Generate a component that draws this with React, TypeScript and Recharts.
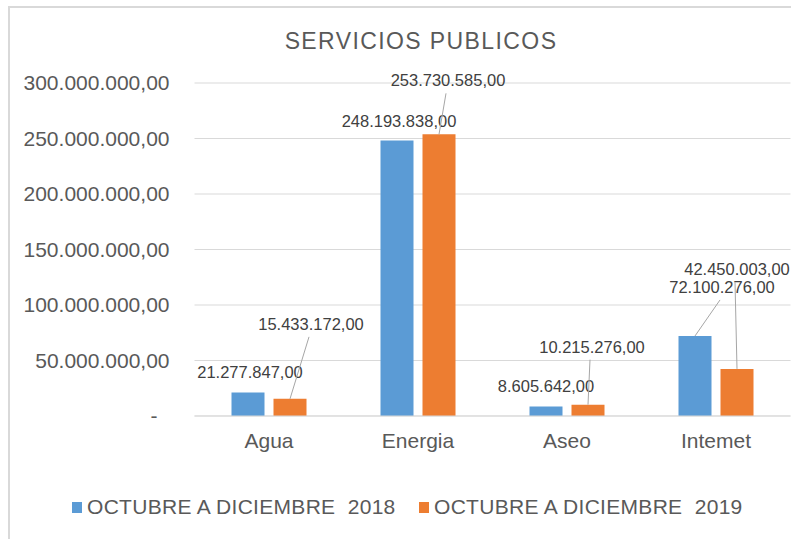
import { BarChart, Bar, XAxis, YAxis, CartesianGrid, LabelList } from "recharts";

const categories = ["Agua", "Energia", "Aseo", "Intemet"];
const values2018 = [21277847, 248193838, 8605642, 72100276];
const values2019 = [15433172, 253730585, 10215276, 42450003];
const seriesNames = ["OCTUBRE A DICIEMBRE  2018", "OCTUBRE A DICIEMBRE  2019"];
const seriesColors = ["#5B9BD5", "#ED7D31"];
const yTicks = [0, 50000000, 100000000, 150000000, 200000000, 250000000, 300000000];

// where Excel left each data label, relative to the top centre of its bar
const labelShift2018 = [[2, -20], [2, -20], [0, -20], [27, -49]];
const labelShift2019 = [[21, -75], [9, -54], [4, -58], [0, -100]];
const leader2018 = [false, false, false, true];
const leader2019 = [true, true, true, true];

const data = categories.map((name, i) => ({ name, v2018: values2018[i], v2019: values2019[i] }));

const FONT = "'Liberation Sans', Arial, sans-serif";
const TEXT = "#595959";

const fmt = (n: number) => {
  const [int, dec] = n.toFixed(2).split(".");
  return int.replace(/\B(?=(\d{3})+(?!\d))/g, ".") + "," + dec;
};

const makeLabel = (values: number[], shift: number[][], leader: boolean[]) => (props: any) => {
  const vb = props.viewBox || {};
  const x = props.x ?? vb.x;
  const y = props.y ?? vb.y;
  const width = props.width ?? vb.width;
  const value = Number(props.value);
  const i = typeof props.index === "number" ? props.index : values.indexOf(value);
  if (i < 0 || x == null) return null;
  const [dx, dy] = shift[i];
  const cx = x + width / 2;
  const lx = cx + dx;
  const ly = y + dy;
  return (
    <g>
      {leader[i] && <line x1={cx} y1={y} x2={lx - 2} y2={ly + 13} stroke="#A6A6A6" strokeWidth={1} />}
      <text x={lx} y={ly} textAnchor="middle" dominantBaseline="central" fontFamily={FONT} fontSize={16.5} fill="#404040">
        {fmt(value)}
      </text>
    </g>
  );
};

const YTick = (props: any) => {
  const { x, y, payload } = props;
  const zero = payload.value === 0;
  return (
    <text x={zero ? x - 12 : x} y={y} dy="0.35em" textAnchor="end" fontFamily={FONT} fontSize={21} fill={TEXT}>
      {zero ? "-" : fmt(payload.value)}
    </text>
  );
};

const App = () => {
  return (
    <div style={{ position: "absolute", left: 0, top: 0, width: 791, height: 539, overflow: "hidden", background: "#fff" }}>
      <div
        style={{
          position: "absolute", left: 8, top: 6, width: 800, height: 600,
          borderLeft: "2px solid #D9D9D9", borderTop: "2px solid #D9D9D9",
        }}
      />
      <div
        style={{
          position: "absolute", left: 0, width: 842, top: 27, textAlign: "center",
          fontFamily: FONT, fontSize: 23, letterSpacing: 1.4, color: TEXT, lineHeight: "28px",
        }}
      >
        SERVICIOS PUBLICOS
      </div>
      <div style={{ position: "absolute", left: 0, top: 0 }}>
        <BarChart
          width={791}
          height={539}
          data={data}
          margin={{ top: 83, right: 0.5, bottom: 83, left: 0 }}
          barGap={9}
          barSize={33}
        >
          <CartesianGrid vertical={false} stroke="#D9D9D9" />
          <XAxis
            dataKey="name"
            height={40}
            tickLine={false}
            axisLine={{ stroke: "#D9D9D9" }}
            tickSize={0}
            tickMargin={17}
            tick={{ fontFamily: FONT, fontSize: 21, fill: TEXT }}
          />
          <YAxis
            width={194.5}
            domain={[0, 300000000]}
            ticks={yTicks}
            axisLine={false}
            tickLine={false}
            tickSize={0}
            tickMargin={25}
            tick={<YTick />}
          />
          <Bar dataKey="v2018" name={seriesNames[0]} fill={seriesColors[0]} isAnimationActive={false}>
            <LabelList dataKey="v2018" content={makeLabel(values2018, labelShift2018, leader2018)} />
          </Bar>
          <Bar dataKey="v2019" name={seriesNames[1]} fill={seriesColors[1]} isAnimationActive={false}>
            <LabelList dataKey="v2019" content={makeLabel(values2019, labelShift2019, leader2019)} />
          </Bar>
        </BarChart>
      </div>
      {seriesNames.map((s, i) => (
        <div
          key={s}
          style={{
            position: "absolute", left: i === 0 ? 72 : 419, top: 494, display: "flex", alignItems: "center",
            fontFamily: FONT, fontSize: 21, letterSpacing: 0.3, color: TEXT, whiteSpace: "pre", lineHeight: "26px",
          }}
        >
          <span style={{ display: "inline-block", width: 10, height: 11, background: seriesColors[i], marginRight: 5 }} />
          {s}
        </div>
      ))}
    </div>
  );
};

export default App;
